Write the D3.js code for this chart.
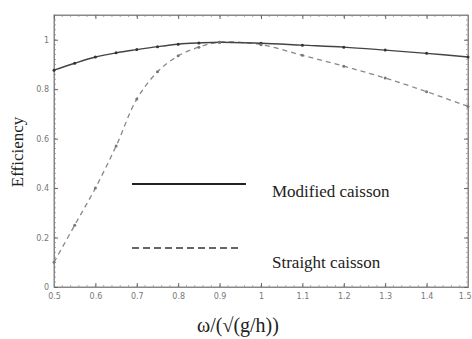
<!DOCTYPE html>
<html>
<head>
<meta charset="utf-8">
<script src="https://cdn.jsdelivr.net/npm/d3@7"></script>
<style>
  body { margin: 0; background: #fff; }
  svg { display: block; }
</style>
</head>
<body>
<svg id="chart" width="472" height="339"></svg>
<script>
// frequency values, omega / sqrt(g/h)
const freq = [0.5, 0.55, 0.6, 0.65, 0.7, 0.75, 0.8, 0.85, 0.9, 1.0, 1.1, 1.2, 1.3, 1.4, 1.5];
const modified = [0.877, 0.905, 0.93, 0.947, 0.96, 0.972, 0.982, 0.987, 0.99, 0.986, 0.978, 0.97, 0.958, 0.945, 0.93];
const straight = [0.1, 0.25, 0.4, 0.57, 0.76, 0.87, 0.935, 0.97, 0.99, 0.98, 0.937, 0.893, 0.845, 0.79, 0.73];
const xTicks = [0.5, 0.6, 0.7, 0.8, 0.9, 1, 1.1, 1.2, 1.3, 1.4, 1.5];
const yTicks = [0, 0.2, 0.4, 0.6, 0.8, 1];
const legendNames = ['Modified caisson', 'Straight caisson'];

const svg = d3.select('#chart');
const mLeft = 54, mRight = 468, mTop = 15, mBottom = 287;

const x = d3.scaleLinear().domain([0.5, 1.5]).range([mLeft, mRight]);
const y = d3.scaleLinear().domain([0, 1.1]).range([mBottom, mTop]);

// frame
svg.append('rect')
  .attr('x', mLeft).attr('y', mTop)
  .attr('width', mRight - mLeft).attr('height', mBottom - mTop)
  .attr('fill', 'none').attr('stroke', '#888').attr('stroke-width', 1);

// minor ticks, dotty like the scan
const xMinor = d3.range(0.5, 1.5001, 0.02);
const yMinor = d3.range(0, 1.1001, 0.02);
svg.append('g').selectAll('line').data(xMinor).join('line')
  .attr('x1', d => x(d)).attr('x2', d => x(d))
  .attr('y1', mBottom).attr('y2', mBottom - 2)
  .attr('stroke', '#aaa');
svg.append('g').selectAll('line').data(xMinor).join('line')
  .attr('x1', d => x(d)).attr('x2', d => x(d))
  .attr('y1', mTop).attr('y2', mTop + 2)
  .attr('stroke', '#aaa');
svg.append('g').selectAll('line').data(yMinor).join('line')
  .attr('x1', mLeft).attr('x2', mLeft + 2)
  .attr('y1', d => y(d)).attr('y2', d => y(d))
  .attr('stroke', '#aaa');
svg.append('g').selectAll('line').data(yMinor).join('line')
  .attr('x1', mRight).attr('x2', mRight - 2)
  .attr('y1', d => y(d)).attr('y2', d => y(d))
  .attr('stroke', '#aaa');

// major axes
const xAxisG = svg.append('g')
  .attr('transform', `translate(0,${mBottom})`)
  .call(d3.axisBottom(x).tickValues(xTicks).tickSize(-4).tickPadding(6)
    .tickFormat(d3.format('')));
svg.append('g')
  .attr('transform', `translate(${mLeft},0)`)
  .call(d3.axisLeft(y).tickValues(yTicks).tickSize(-4).tickPadding(5)
    .tickFormat(d3.format('')));
svg.append('g')
  .attr('transform', `translate(0,${mTop})`)
  .call(d3.axisTop(x).tickValues(xTicks).tickSize(-4).tickFormat(''));
svg.append('g')
  .attr('transform', `translate(${mRight},0)`)
  .call(d3.axisRight(y).tickValues(yTicks).tickSize(-4).tickFormat(''));

// last x label sits at the very edge, keep it inside
xAxisG.selectAll('.tick text').filter(d => d === 1.5)
  .attr('text-anchor', 'end').attr('dx', '3');

svg.selectAll('.domain').attr('stroke', '#888');
svg.selectAll('.tick line').attr('stroke', '#666');
svg.selectAll('.tick text')
  .attr('fill', '#777')
  .style('font-family', 'DejaVu Sans')
  .style('font-size', '8px');

// curves
const line = d3.line()
  .x(d => x(d[0]))
  .y(d => y(d[1]))
  .curve(d3.curveCatmullRom);

svg.append('path')
  .datum(freq.map((f, i) => [f, straight[i]]))
  .attr('d', line)
  .attr('fill', 'none')
  .attr('stroke', '#888')
  .attr('stroke-width', 1.3)
  .attr('stroke-dasharray', '5,4');

svg.append('path')
  .datum(freq.map((f, i) => [f, modified[i]]))
  .attr('d', line)
  .attr('fill', 'none')
  .attr('stroke', '#444')
  .attr('stroke-width', 1.4);

svg.append('g').selectAll('circle')
  .data(freq.map((f, i) => [f, modified[i]]))
  .join('circle')
  .attr('cx', d => x(d[0])).attr('cy', d => y(d[1]))
  .attr('r', 1.5).attr('fill', '#333');
svg.append('g').selectAll('circle')
  .data(freq.map((f, i) => [f, straight[i]]))
  .join('circle')
  .attr('cx', d => x(d[0])).attr('cy', d => y(d[1]))
  .attr('r', 1.5).attr('fill', '#777');

// legend
const legend = svg.append('g').style('font-family', 'Liberation Serif');
legend.append('line')
  .attr('x1', 132).attr('x2', 246).attr('y1', 184).attr('y2', 184)
  .attr('stroke', '#222').attr('stroke-width', 1.8);
legend.append('line')
  .attr('x1', 132).attr('x2', 240).attr('y1', 248).attr('y2', 248)
  .attr('stroke', '#333').attr('stroke-width', 1.6)
  .attr('stroke-dasharray', '7,4');
legend.append('text')
  .attr('x', 272).attr('y', 197)
  .style('font-size', '17px').attr('fill', '#222')
  .text(legendNames[0]);
legend.append('text')
  .attr('x', 272).attr('y', 268)
  .style('font-size', '17px').attr('fill', '#222')
  .text(legendNames[1]);

// axis titles
svg.append('text')
  .attr('transform', 'translate(23,152) rotate(-90)')
  .attr('text-anchor', 'middle')
  .style('font-family', 'Liberation Serif')
  .style('font-size', '17px')
  .attr('fill', '#222')
  .text('Efficiency');
svg.append('text')
  .attr('x', 238).attr('y', 332)
  .attr('text-anchor', 'middle')
  .style('font-family', 'Liberation Serif')
  .style('font-size', '20px')
  .attr('fill', '#222')
  .text('ω/(√(g/h))');
</script>
</body>
</html>
